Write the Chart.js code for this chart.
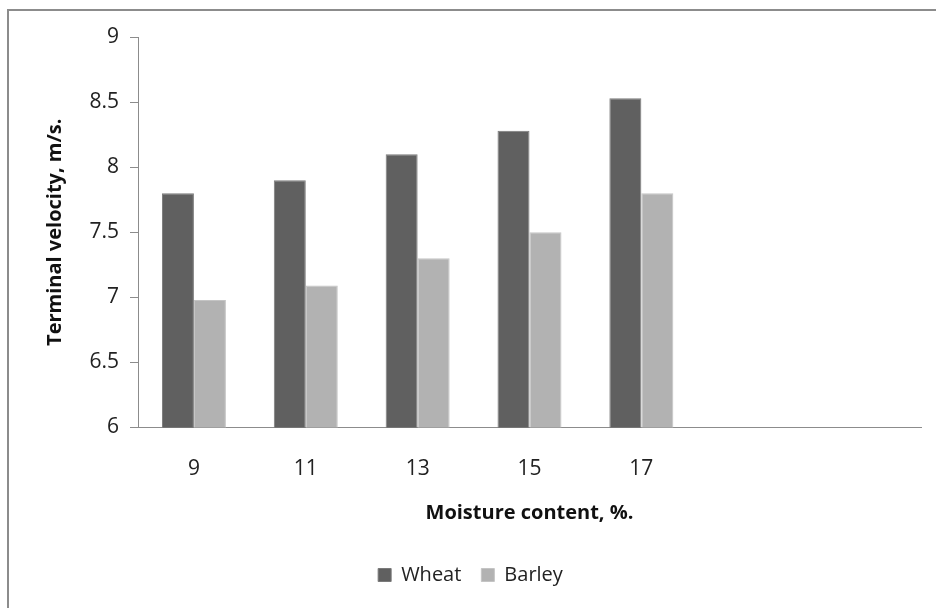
<!DOCTYPE html>
<html>
<head>
<meta charset="utf-8">
<script src="https://cdn.jsdelivr.net/npm/chart.js@4/dist/chart.umd.min.js"></script>
<style>
  html, body { margin: 0; padding: 0; background: #ffffff; }
  #wrap { width: 936px; height: 608px; position: relative; }
</style>
</head>
<body>
<div id="wrap"><canvas id="c" width="936" height="608"></canvas></div>
<script>
// ---- data ----
const categories = ['9', '11', '13', '15', '17', '', ''];
const wheat  = [7.8, 7.9, 8.1, 8.28, 8.53];
const barley = [6.98, 7.09, 7.3, 7.5, 7.8];
const yTicks = [6, 6.5, 7, 7.5, 8, 8.5, 9];
const seriesNames = ['Wheat', 'Barley'];
const xTitle = 'Moisture content, %.';
const yTitle = 'Terminal velocity, m/s.';

const FONT = "'Open Sans', 'DejaVu Sans', sans-serif";

const frame = {
  id: 'frame',
  beforeDraw(chart) {
    const ctx = chart.ctx;
    ctx.save();
    ctx.fillStyle = '#ffffff';
    ctx.fillRect(0, 0, chart.width, chart.height);
    ctx.strokeStyle = '#8c8c8c';
    ctx.lineWidth = 2;
    ctx.beginPath();
    ctx.moveTo(8, chart.height);
    ctx.lineTo(8, 10);
    ctx.lineTo(chart.width, 10);
    ctx.stroke();
    ctx.restore();
  }
};

new Chart(document.getElementById('c'), {
  type: 'bar',
  data: {
    labels: categories,
    datasets: [
      { label: seriesNames[0], data: wheat, backgroundColor: '#606060', borderColor: '#7a7a7a', borderWidth: 1 },
      { label: seriesNames[1], data: barley, backgroundColor: '#b2b2b2', borderColor: '#c4c4c4', borderWidth: 1 }
    ]
  },
  options: {
    responsive: false,
    animation: false,
    devicePixelRatio: 1,
    datasets: { bar: { categoryPercentage: 0.572, barPercentage: 1.0 } },
    layout: { padding: { top: 37, left: 20, right: 15, bottom: 13 } },
    plugins: {
      legend: {
        position: 'bottom',
        labels: {
          boxWidth: 13, boxHeight: 13, padding: 20,
          color: '#222', font: { family: FONT, size: 20 }
        }
      },
      tooltip: { enabled: false },
      title: { display: false }
    },
    scales: {
      x: {
        grid: { display: false },
        border: { display: true, color: '#8c8c8c', width: 1 },
        ticks: { color: '#222', font: { family: FONT, size: 21 }, padding: 21, maxRotation: 0, autoSkip: false },
        title: { display: true, text: xTitle, color: '#111', font: { family: FONT, size: 20, weight: 'bold' }, padding: { top: 0, bottom: 20 } },
        afterFit(scale) { scale.height = 117.5; }
      },
      y: {
        min: 6, max: 9,
        grid: { display: true, drawOnChartArea: false, drawTicks: true, tickLength: 8, color: '#8c8c8c' },
        border: { display: true, color: '#8c8c8c', width: 1 },
        afterBuildTicks(scale) { scale.ticks = yTicks.map(v => ({ value: v })); },
        ticks: { color: '#222', font: { family: FONT, size: 21 }, padding: 11, callback: v => String(v) },
        title: { display: true, text: yTitle, color: '#111', font: { family: FONT, size: 20, weight: 'bold' }, padding: { top: 23, bottom: 0 } },
        afterFit(scale) { scale.width = 118; }
      }
    }
  },
  plugins: [frame]
});
</script>
</body>
</html>
